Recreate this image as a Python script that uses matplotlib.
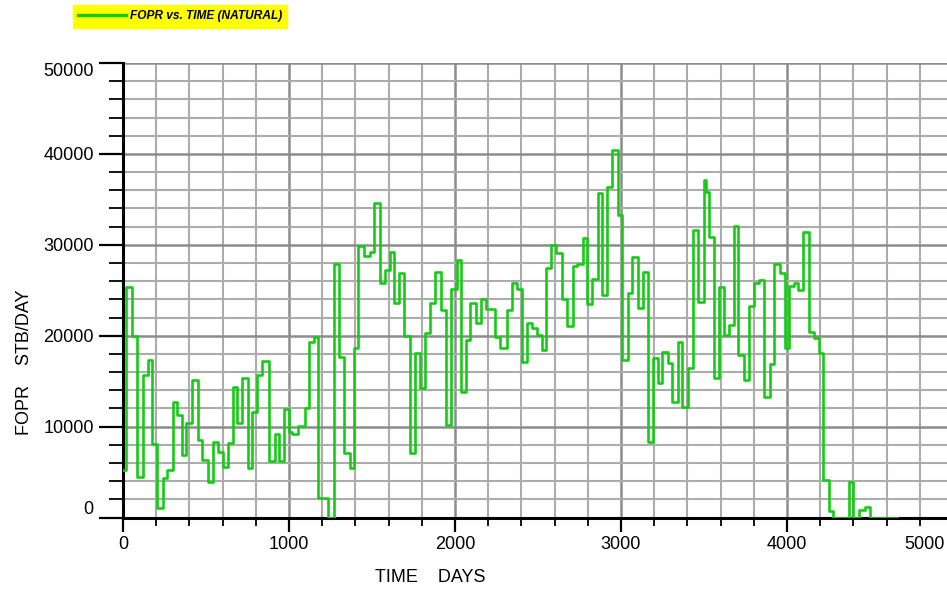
import matplotlib
matplotlib.use("Agg")
import matplotlib.pyplot as plt
from matplotlib.ticker import MultipleLocator
from matplotlib.transforms import ScaledTranslation

# FOPR report steps: start day of each step and rate (STB/DAY)
time_days = [0, 20, 54, 84, 120, 150, 176, 206, 240, 264, 300, 326, 356, 380, 414,
             450, 476, 510, 544, 570, 600, 630, 660, 686, 716, 750, 780, 810, 840,
             877, 917, 941, 971, 997, 1021, 1057, 1097, 1121, 1153, 1177, 1233,
             1273, 1301, 1333, 1367, 1393, 1417, 1453, 1487, 1513, 1547, 1577, 1607,
             1633, 1661, 1693, 1727, 1761, 1791, 1821, 1851, 1881, 1915, 1947, 1975,
             2011, 2035, 2067, 2091, 2127, 2155, 2187, 2241, 2271, 2311, 2341, 2371,
             2401, 2431, 2461, 2491, 2527, 2551, 2581, 2611, 2645, 2675, 2709, 2735,
             2769, 2795, 2825, 2859, 2885, 2915, 2945, 2981, 3009, 3045, 3069, 3105,
             3135, 3165, 3191, 3221, 3245, 3285, 3309, 3341, 3369, 3405, 3435, 3465,
             3499, 3511, 3531, 3561, 3589, 3619, 3651, 3679, 3705, 3739, 3771, 3799,
             3831, 3859, 3895, 3919, 3955, 3985, 4015, 4045, 4065, 4099, 4135, 4165,
             4191, 4219, 4251, 4279, 4375, 4399, 4435, 4471, 4499]
fopr = [5200, 25400, 20000, 4500, 15700, 17300, 8100, 1000, 4300, 5200, 12700, 11300,
        6900, 10400, 15100, 8500, 6300, 3900, 8300, 7200, 5600, 8200, 14400, 10400,
        15300, 5400, 11600, 15700, 17200, 6200, 9200, 6200, 11900, 9400, 9200, 10100,
        12100, 19300, 19900, 2200, 0, 27900, 17700, 7100, 5400, 18600, 29900, 28800,
        29200, 34600, 25800, 27200, 29200, 23600, 26900, 20000, 7100, 18100, 14200,
        20300, 23600, 27000, 22800, 10200, 25100, 28300, 13800, 19500, 23600, 21400,
        24000, 22900, 19900, 18600, 22800, 25800, 25100, 17100, 21400, 20800, 20100,
        18400, 27400, 30000, 29100, 24000, 21100, 27700, 27900, 30700, 23500, 26200,
        35700, 24500, 36400, 40400, 33300, 17300, 24700, 28700, 23000, 27000, 8300,
        17500, 14800, 18200, 17000, 12700, 19300, 12200, 16500, 31600, 23700, 37100,
        35800, 30900, 15300, 25400, 20100, 21200, 32100, 17900, 15100, 23300, 25800,
        26100, 13300, 16900, 27900, 26900, 18600, 25500, 25800, 25000, 31400, 20400,
        19700, 18100, 4100, 750, 0, 3900, 0, 800, 1200, 0]
end_day = 4660

x_ticks = [0, 1000, 2000, 3000, 4000, 5000]
y_ticks = [0, 10000, 20000, 30000, 40000, 50000]

plt.rcParams['font.family'] = ['Liberation Sans', 'DejaVu Sans']

fig = plt.figure(figsize=(9.47, 5.91), dpi=100)
ax = fig.add_axes([123 / 947, 73.5 / 591, 830 / 947, 454.5 / 591])

ax.step(time_days + [end_day], fopr + [fopr[-1]], where='post',
        color='#14cc14', lw=1.9, label='FOPR vs. TIME (NATURAL)', zorder=3)

ax.set_xlim(0, 5000)
ax.set_ylim(0, 50000)
ax.set_xticks(x_ticks)
ax.set_yticks(y_ticks)
ax.xaxis.set_minor_locator(MultipleLocator(200))
ax.yaxis.set_minor_locator(MultipleLocator(2000))

ax.grid(which='major', color='#8c8c8c', lw=1.8)
ax.grid(which='minor', color='#acacac', lw=1.5)
ax.set_axisbelow(True)

for side in ['top', 'right']:
    ax.spines[side].set_visible(False)
for side in ['left', 'bottom']:
    ax.spines[side].set_linewidth(2.2)
    ax.spines[side].set_color('black')

ax.tick_params(which='major', direction='out', length=10, width=1.6, labelsize=13, pad=3)
ax.tick_params(which='minor', direction='out', length=6, width=1.3)
ax.tick_params(axis='y', which='major', length=17, pad=4)
ax.tick_params(axis='y', which='minor', length=10)

# last x label sits flush with the right edge, end y labels kept inside the frame
xl = ax.get_xticklabels()
xl[-1].set_ha('right')
xl[-1].set_transform(xl[-1].get_transform() + ScaledTranslation(-8 / 100, 0, fig.dpi_scale_trans))
yl = ax.get_yticklabels()
yl[0].set_va('bottom')
yl[-1].set_va('top')

fig.text(430 / 947, 1 - 578 / 591, 'TIME    DAYS', ha='center', va='center', fontsize=13)
fig.text(25 / 947, 1 - 362 / 591, 'FOPR    STB/DAY', ha='center', va='center',
         rotation=90, fontsize=13)

leg = ax.legend(loc='upper left', bbox_to_anchor=(73 / 947, 1 - 5 / 591),
                bbox_transform=fig.transFigure, frameon=True, fancybox=False,
                facecolor='#ffff00', edgecolor='#ffff00', framealpha=1,
                borderpad=0.45, borderaxespad=0, handlelength=4.0, handletextpad=0.3,
                prop={'style': 'italic', 'weight': 'bold', 'size': 8.6})
leg.get_lines()[0].set_linewidth(2.5)

fig.savefig('out.png', dpi=100)
